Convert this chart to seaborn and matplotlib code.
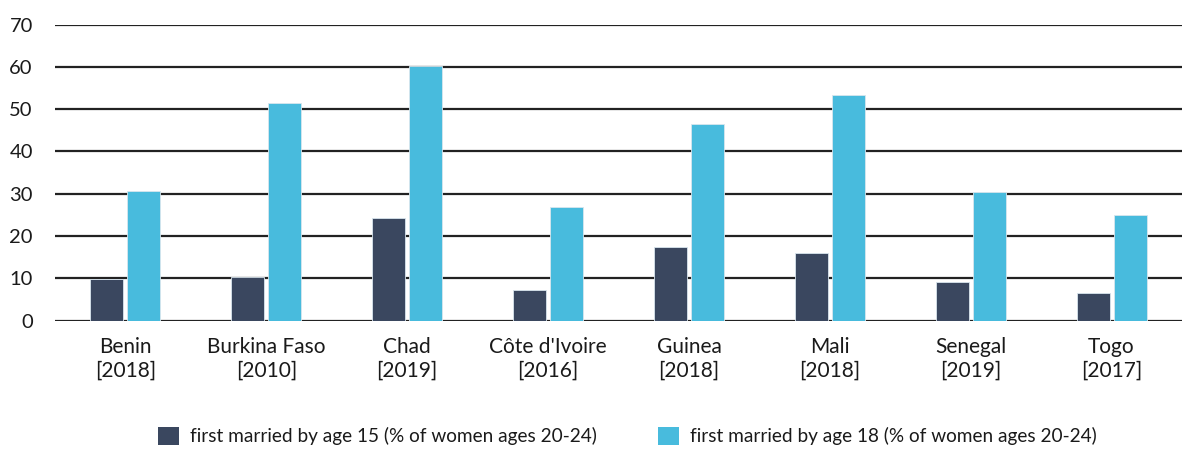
import matplotlib
matplotlib.use("Agg")
import matplotlib.pyplot as plt
import seaborn as sns
import pandas as pd
from matplotlib.patches import Patch

countries = ["Benin\n[2018]", "Burkina Faso\n[2010]", "Chad\n[2019]", "Côte d'Ivoire\n[2016]",
             "Guinea\n[2018]", "Mali\n[2018]", "Senegal\n[2019]", "Togo\n[2017]"]
by15 = [9.9, 10.4, 24.2, 7.2, 17.3, 16.0, 9.0, 6.6]
by18 = [30.6, 51.4, 60.1, 26.8, 46.4, 53.3, 30.5, 24.9]
series = ["first married by age 15 (% of women ages 20-24)",
          "first married by age 18 (% of women ages 20-24)"]
colors = ["#3A475F", "#48BBDD"]

df = pd.DataFrame({
    "country": countries * 2,
    "value": by15 + by18,
    "series": [series[0]] * len(countries) + [series[1]] * len(countries),
})

sns.set_theme(style="white")
plt.rcParams["font.family"] = ["Lato", "DejaVu Sans"]

fig = plt.figure(figsize=(11.82, 4.49), dpi=100)
ax = fig.add_axes([55 / 1182, 1 - 320.5 / 449, 1 - 55 / 1182, (320.5 - 24.5) / 449])

sns.barplot(data=df, x="country", y="value", hue="series", palette=colors,
            width=0.525, gap=0.11, ax=ax, legend=False, saturation=1,
            edgecolor="#d8e6ee", linewidth=0.6)

ax.set_ylim(0, 70)
ax.set_xlim(-0.5, len(countries) - 0.5)
ax.set_yticks(range(0, 71, 10))
ax.yaxis.grid(True, color="#222222", linewidth=1.6)
ax.set_axisbelow(True)
for s in ax.spines.values():
    s.set_visible(False)
ax.set_xlabel("")
ax.set_ylabel("")
ax.tick_params(axis="y", length=0, pad=16, labelsize=14.5, labelcolor="#1a1a1a")
ax.tick_params(axis="x", length=0, pad=12, labelsize=15, labelcolor="#1a1a1a")
for lbl in ax.get_yticklabels():
    lbl.set_horizontalalignment("right")

handles = [Patch(facecolor=c, edgecolor="none") for c in colors]
fig.legend(handles, series, loc="center", bbox_to_anchor=(0.531, 1 - 436 / 449), ncol=2,
           frameon=False, fontsize=13.7, handlelength=1.1, handleheight=1.1,
           handletextpad=0.6, columnspacing=3.2, labelcolor="#1a1a1a")

fig.savefig("out.png", dpi=100)
